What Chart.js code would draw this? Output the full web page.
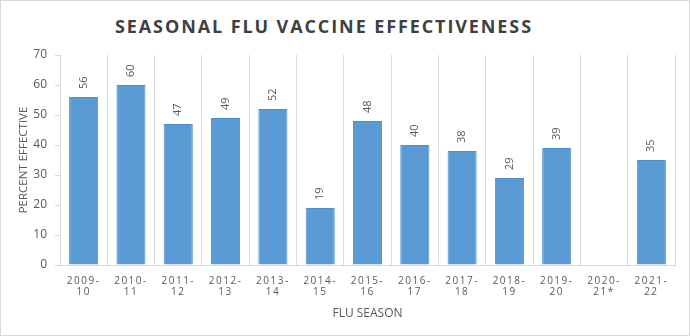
<!DOCTYPE html>
<html>
<head>
<meta charset="utf-8">
<script src="https://cdn.jsdelivr.net/npm/chart.js@4.4.0/dist/chart.umd.min.js"></script>
<style>
  body { margin: 0; background: #fff; }
  #wrap { position: relative; width: 690px; height: 336px; box-sizing: border-box; border: 1px solid #d9d9d9; }
  #title {
    position: absolute; left: 114px; top: 13px; white-space: nowrap;
    font-family: "Open Sans", sans-serif; font-weight: 700; font-size: 18px;
    letter-spacing: 1.9px; color: #404040;
  }
  #chart { position: absolute; left: 0; top: 0; }
</style>
</head>
<body>
<div id="wrap">
  <div id="title">SEASONAL FLU VACCINE EFFECTIVENESS</div>
  <canvas id="chart" width="688" height="334"></canvas>
</div>
<script>
// flu seasons (x labels, two lines each)
const seasons = [
  ['2009-', '10'], ['2010-', '11'], ['2011-', '12'], ['2012-', '13'], ['2013-', '14'],
  ['2014-', '15'], ['2015-', '16'], ['2016-', '17'], ['2017-', '18'], ['2018-', '19'],
  ['2019-', '20'], ['2020-', '21*'], ['2021-', '22']
];
// percent effective, no estimate for 2020-21
const effectiveness = [56, 60, 47, 49, 52, 19, 48, 40, 38, 29, 39, null, 35];
const yTicks = [0, 10, 20, 30, 40, 50, 60, 70];

const gridColor = '#d9d9d9';
const textColor = '#595959';

// value labels above bars, rotated
const barLabels = {
  id: 'barLabels',
  afterDatasetsDraw(chart) {
    const ctx = chart.ctx;
    const meta = chart.getDatasetMeta(0);
    ctx.save();
    ctx.font = '11px "Open Sans", sans-serif';
    ctx.fillStyle = textColor;
    ctx.textAlign = 'left';
    ctx.textBaseline = 'middle';
    meta.data.forEach((bar, i) => {
      const v = effectiveness[i];
      if (v == null) return;
      ctx.save();
      ctx.translate(bar.x, bar.y - 8);
      ctx.rotate(-Math.PI / 2);
      ctx.fillText(String(v), 0, 0);
      ctx.restore();
    });
    ctx.restore();
    // x tick labels are drawn after this (z: 1), spaced out
    ctx.letterSpacing = '1.5px';
  },
  afterDraw(chart) {
    chart.ctx.letterSpacing = '0px';
  }
};

new Chart(document.getElementById('chart'), {
  type: 'bar',
  data: {
    labels: seasons,
    datasets: [{
      data: effectiveness,
      backgroundColor: '#5b9bd5',
      borderColor: '#4f8fcc',
      borderWidth: 1,
      barPercentage: 0.615,
      categoryPercentage: 1
    }]
  },
  options: {
    responsive: false,
    animation: false,
    layout: { padding: { top: 54, right: 14, bottom: 0, left: 0 } },
    plugins: {
      legend: { display: false },
      tooltip: { enabled: false }
    },
    scales: {
      x: {
        offset: true,
        grid: { offset: true, color: gridColor, drawTicks: false },
        border: { color: gridColor },
        ticks: {
          z: 1,
          color: textColor,
          font: { family: '"Open Sans", sans-serif', size: 10, lineHeight: 1.15 },
          padding: 10,
          maxRotation: 0,
          autoSkip: false
        },
        title: {
          display: true,
          text: 'FLU SEASON',
          color: textColor,
          font: { family: '"Open Sans", sans-serif', size: 12 },
          padding: { top: 0, bottom: 14 }
        },
        afterFit(scale) { scale.height = 70; }
      },
      y: {
        min: 0,
        max: 70,
        afterBuildTicks(scale) { scale.ticks = yTicks.map(v => ({ value: v })); },
        grid: { drawOnChartArea: false, color: gridColor, tickLength: 5 },
        border: { color: gridColor },
        ticks: {
          color: textColor,
          font: { family: '"Open Sans", sans-serif', size: 12 },
          padding: 8
        },
        title: {
          display: true,
          text: 'PERCENT EFFECTIVE',
          color: textColor,
          font: { family: '"Open Sans", sans-serif', size: 11.5 },
          padding: { top: 16, bottom: 0 }
        },
        afterFit(scale) { scale.width = 59; }
      }
    }
  },
  plugins: [barLabels]
});
</script>
</body>
</html>
